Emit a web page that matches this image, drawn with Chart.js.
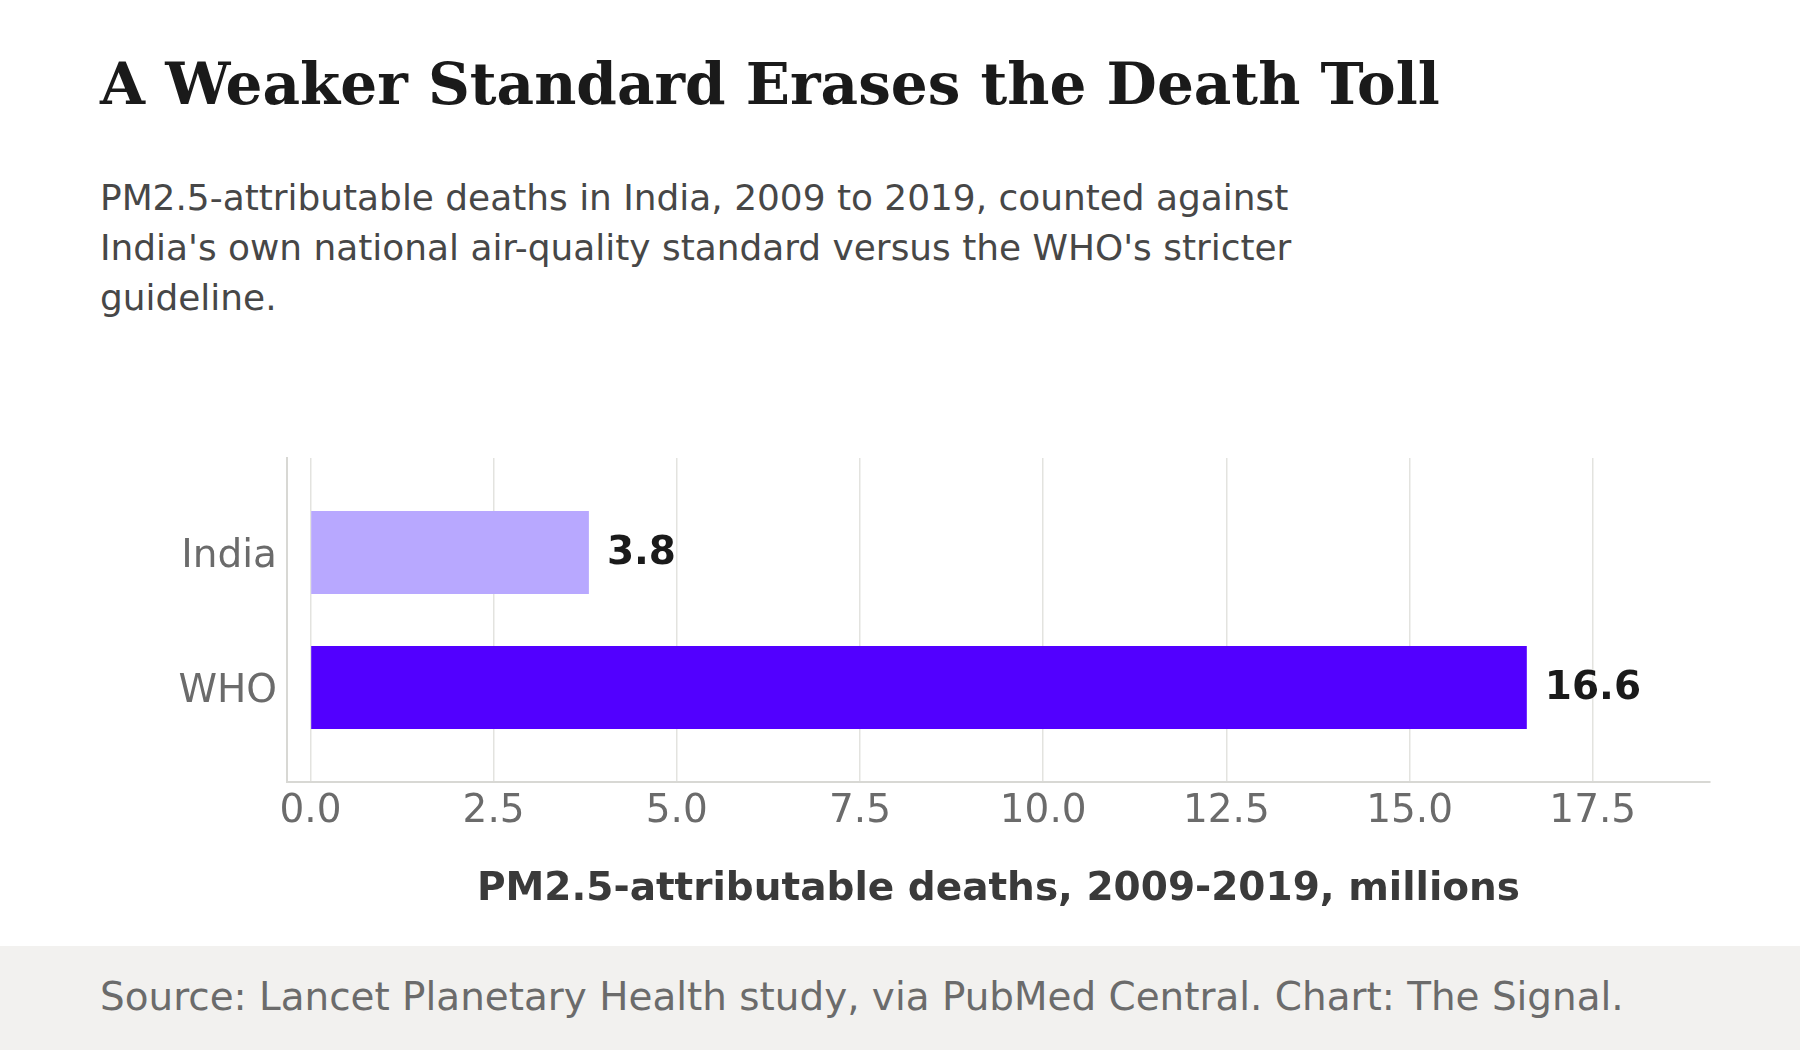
<!DOCTYPE html>
<html>
<head>
<meta charset="utf-8">
<script src="https://cdn.jsdelivr.net/npm/chart.js@4.4.1/dist/chart.umd.min.js"></script>
<style>
  body { margin: 0; width: 1800px; height: 1050px; background: #fff; position: relative; overflow: hidden; }
  .title { position: absolute; left: 100px; top: 55px; font: bold 58px "DejaVu Serif", serif; line-height: 58px; color: #1a1a1a; white-space: nowrap; }
  .subtitle { position: absolute; left: 100px; top: 173px; font: 35.9px "DejaVu Sans", sans-serif; line-height: 50px; color: #474747; white-space: nowrap; }
  .footer { position: absolute; left: 0; top: 946px; width: 1800px; height: 104px; background: #f2f1ef; }
  .footer span { position: absolute; left: 100px; top: 31px; font: 38.9px "DejaVu Sans", sans-serif; line-height: 39px; color: #6b6b6b; white-space: nowrap; }
  #chartBox { position: absolute; left: 0; top: 400px; width: 1800px; height: 546px; }
</style>
</head>
<body>
<div class="title">A Weaker Standard Erases the Death Toll</div>
<div class="subtitle">PM2.5-attributable deaths in India, 2009 to 2019, counted against<br>India's own national air-quality standard versus the WHO's stricter<br>guideline.</div>
<div class="footer"><span>Source: Lancet Planetary Health study, via PubMed Central. Chart: The Signal.</span></div>
<div id="chartBox"><canvas id="barChart"></canvas></div>

<script>
// Data
const standards = ['India', 'WHO'];
const deathsMillions = [3.8, 16.6];
const barColors = ['#b8a8ff', '#5200ff'];
const xTickValues = [0, 2.5, 5, 7.5, 10, 12.5, 15, 17.5];

// value labels to the right of each bar
const valueLabels = {
    id: 'valueLabels',
    afterDatasetsDraw(chart) {
        const ctx = chart.ctx;
        const meta = chart.getDatasetMeta(0);
        ctx.save();
        ctx.font = 'bold 39px "DejaVu Sans", sans-serif';
        ctx.fillStyle = '#1a1a1a';
        ctx.textAlign = 'left';
        ctx.textBaseline = 'middle';
        meta.data.forEach((bar, i) => {
            ctx.fillText(deathsMillions[i].toFixed(1), bar.x + 18, bar.y + 1);
        });
        ctx.restore();
    }
};

const ctx = document.getElementById('barChart').getContext('2d');
const myBarChart = new Chart(ctx, {
    type: 'bar',
    data: {
        datasets: [{
            data: deathsMillions.map((v, i) => ({ x: v, y: i })),
            backgroundColor: barColors,
            borderWidth: 0,
            categoryPercentage: 1,
            barPercentage: 0.615
        }]
    },
    options: {
        indexAxis: 'y',
        responsive: true,
        maintainAspectRatio: false,
        animation: false,
        layout: { padding: { top: 58, right: 90, left: 0, bottom: 0 } },
        plugins: {
            legend: { display: false },
            tooltip: { enabled: false }
        },
        scales: {
            x: {
                type: 'linear',
                min: -0.32,
                max: 19.1,
                afterBuildTicks: (scale) => {
                    scale.ticks = xTickValues.map(v => ({ value: v }));
                },
                afterFit: (scale) => { scale.height = 164; },
                grid: { color: '#e3e3df', lineWidth: 1.5, drawTicks: false },
                border: { color: '#d8d8d4', width: 2 },
                ticks: {
                    padding: 6,
                    color: '#6b6b6b',
                    font: { family: 'DejaVu Sans', size: 39 },
                    callback: (v) => Number(v).toFixed(1)
                },
                title: {
                    display: true,
                    text: 'PM2.5-attributable deaths, 2009-2019, millions',
                    color: '#3a3a3a',
                    font: { family: 'DejaVu Sans', size: 39, weight: 'bold' },
                    padding: { top: 0, bottom: 33 }
                }
            },
            y: {
                type: 'linear',
                reverse: true,
                offset: false,
                min: -0.7,
                max: 1.7,
                afterBuildTicks: (scale) => {
                    scale.ticks = standards.map((s, i) => ({ value: i }));
                },
                afterFit: (scale) => { scale.width = 287; },
                grid: { display: false, drawTicks: false },
                border: { display: true, color: '#d8d8d4', width: 2 },
                ticks: {
                    padding: 10,
                    labelOffset: 4,
                    color: '#6b6b6b',
                    font: { family: 'DejaVu Sans', size: 39 },
                    callback: (v) => standards[v]
                }
            }
        }
    },
    plugins: [valueLabels]
});
</script>
</body>
</html>
